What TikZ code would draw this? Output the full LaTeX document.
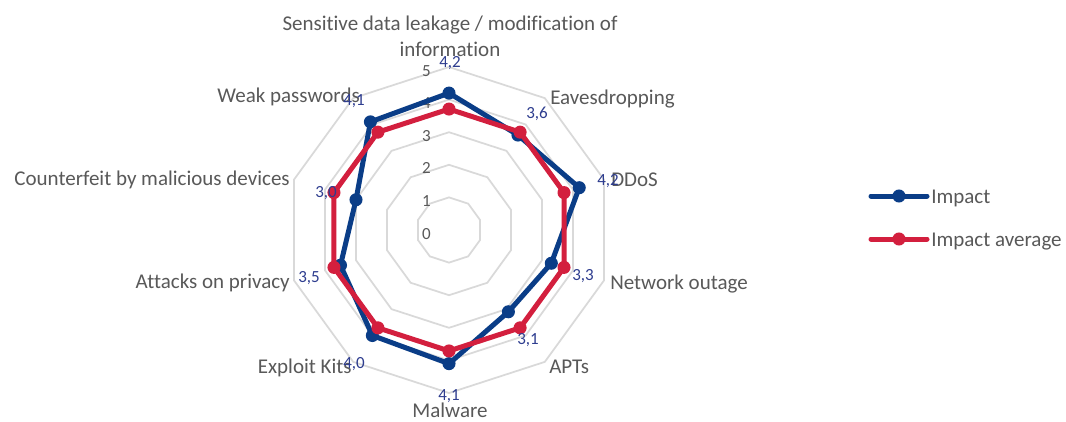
\documentclass[tikz,border=0pt]{standalone}
\usepackage{fontspec}
\setmainfont{Carlito}[Ligatures=NoCommon]
\usetikzlibrary{calc}
\definecolor{ser1}{HTML}{0A3D87}
\definecolor{ser2}{HTML}{D31F3E}
\definecolor{dl}{HTML}{2E3D8F}
\definecolor{txt}{HTML}{595959}
\definecolor{gridc}{HTML}{D9D9D9}
\tikzset{
  gridline/.style={draw=gridc, line width=1.3pt, line join=miter},
  ser/.style={line width=3.75pt, line join=round, line cap=round},
  catlab/.style={font=\fontsize{15.75pt}{18.75pt}\selectfont, text=txt, inner sep=0pt},
  dlab/.style={font=\fontsize{12.75pt}{15pt}\selectfont, text=dl, inner sep=0pt},
  axlab/.style={font=\fontsize{12.75pt}{15pt}\selectfont, text=txt, inner sep=0pt},
}
\begin{document}
\begin{tikzpicture}[x=0.75pt,y=-0.75pt]
\fill[white] (0,0) rectangle (1066,421);
\useasboundingbox (0,0) rectangle (1066,421);
% grid
\begin{scope}[shift={(449,230)}]
  \foreach \k in {1,...,5}{
    \draw[gridline] (-90:{\k*32.6}) \foreach \i in {1,...,9}{ -- ({36*\i-90}:{\k*32.6}) } -- cycle;
  }
  \foreach \v [count=\i from 0] in {4.2,3.6,4.2,3.3,3.1,4.1,4.0,3.5,3.0,4.1}{
    \coordinate (b\i) at ({36*\i-90}:{\v*32.6});
  }
  \foreach \i in {0,...,9}{
    \coordinate (r\i) at ({36*\i-90}:{3.71*32.6});
  }
\end{scope}
% axis labels
\foreach \k in {0,...,5}{
  \node[axlab, anchor=base east] (a\k) at (431,{239-32.6*\k}) {\k};
}
% series
\draw[ser, draw=ser1] (b0) -- (b1) -- (b2) -- (b3) -- (b4) -- (b5) -- (b6) -- (b7) -- (b8) -- (b9) -- cycle;
\foreach \i in {0,...,9}{ \fill[ser1] (b\i) circle (4.9pt); }
\draw[ser, draw=ser2] (r0) -- (r1) -- (r2) -- (r3) -- (r4) -- (r5) -- (r6) -- (r7) -- (r8) -- (r9) -- cycle;
\foreach \i in {0,...,9}{ \fill[ser2] (r\i) circle (4.9pt); }
% category labels
\node[catlab, anchor=base] (c0a) at (450,31) {Sensitive data leakage / modification of};
\node[catlab, anchor=base] (c0b) at (450,56) {information};
\node[catlab, anchor=base west] (c1) at (550,104) {Eavesdropping};
\node[catlab, anchor=base west] (c2) at (611,186) {DDoS};
\node[catlab, anchor=base west] (c3) at (610,289) {Network outage};
\node[catlab, anchor=base west] (c4) at (549,373) {APTs};
\node[catlab, anchor=base] (c5) at (450,417) {Malware};
\node[catlab, anchor=base east] (c6) at (352,373) {Exploit Kits};
\node[catlab, anchor=base east] (c7) at (290,288) {Attacks on privacy};
\node[catlab, anchor=base east] (c8) at (290,185) {Counterfeit by malicious devices};
\node[catlab, anchor=base east] (c9) at (360,102) {Weak passwords};
% data labels
\node[dlab, anchor=base west] (l0) at (439,67) {4,2};
\node[dlab, anchor=base west] (l1) at (526,118) {3,6};
\node[dlab, anchor=base west] (l2) at (597,185) {4,2};
\node[dlab, anchor=base west] (l3) at (572,280) {3,3};
\node[dlab, anchor=base west] (l4) at (517,344) {3,1};
\node[dlab, anchor=base west] (l5) at (438,400) {4,1};
\node[dlab, anchor=base west] (l6) at (343,368) {4,0};
\node[dlab, anchor=base west] (l7) at (298,282) {3,5};
\node[dlab, anchor=base west] (l8) at (315,197) {3,0};
\node[dlab, anchor=base west] (l9) at (343,105) {4,1};
% legend
\coordinate (g1a) at (871,196);
\coordinate (g1b) at (927,196);
\coordinate (g2a) at (871,239);
\coordinate (g2b) at (927,239);
\draw[ser, draw=ser1] (g1a) -- (g1b);
\fill[ser1] ($(g1a)!0.5!(g1b)$) circle (4.9pt);
\draw[ser, draw=ser2] (g2a) -- (g2b);
\fill[ser2] ($(g2a)!0.5!(g2b)$) circle (4.9pt);
\node[catlab, anchor=base west] (t1) at (931,203) {Impact};
\node[catlab, anchor=base west] (t2) at (931,246) {Impact average};
\end{tikzpicture}
\end{document}
